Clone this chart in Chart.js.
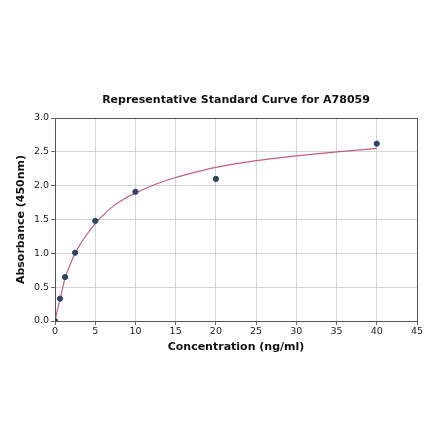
<!DOCTYPE html>
<html>
<head>
<meta charset="utf-8">
<script src="https://cdn.jsdelivr.net/npm/chart.js@4/dist/chart.umd.min.js"></script>
<style>
  html, body { margin: 0; padding: 0; background: #fff; }
  #wrap { width: 440px; height: 441px; }
</style>
</head>
<body>
<div id="wrap"><canvas id="myChart" width="440" height="441"></canvas></div>
<script>
// measured standards
const conc = [0, 0.625, 1.25, 2.5, 5, 10, 20, 40];
const absorb = [0.0, 0.33, 0.65, 1.01, 1.48, 1.91, 2.10, 2.62];

// fitted curve
const fitX = [0, 0.3, 0.625, 1.25, 1.875, 2.5, 3.125, 3.75, 5, 6.25, 7.5, 8.75, 10, 12.5, 15, 17.5, 20, 25, 30, 35, 40];
const fitY = [0, 0.16, 0.32, 0.63, 0.83, 1.0, 1.13, 1.245, 1.44, 1.595, 1.72, 1.815, 1.89, 2.02, 2.12, 2.20, 2.27, 2.37, 2.44, 2.50, 2.55];

const xTicks = [0, 5, 10, 15, 20, 25, 30, 35, 40, 45];
const yTicks = [0, 0.5, 1.0, 1.5, 2.0, 2.5, 3.0];

const chartTitle = 'Representative Standard Curve for A78059';
const xTitle = 'Concentration (ng/ml)';
const yTitle = 'Absorbance (450nm)';

const font = "'DejaVu Sans', sans-serif";

// title on top + dark frame round the plot
const framePlugin = {
  id: 'frame',
  afterDraw(chart) {
    const c = chart.ctx;
    const a = chart.chartArea;
    c.save();
    c.strokeStyle = '#555';
    c.lineWidth = 1;
    c.strokeRect(a.left + 0.5, a.top + 0.5, a.right - a.left, a.bottom - a.top);
    c.font = 'bold 11px ' + font;
    c.fillStyle = '#111';
    c.textAlign = 'center';
    c.textBaseline = 'middle';
    c.fillText(chartTitle, (a.left + a.right) / 2, 100);
    c.restore();
  }
};

const ctx = document.getElementById('myChart').getContext('2d');

const data = {
  datasets: [
    {
      type: 'line',
      data: fitX.map((x, i) => ({ x, y: fitY[i] })),
      borderColor: '#c0607a',
      borderWidth: 1.2,
      pointRadius: 0,
      fill: false,
      cubicInterpolationMode: 'monotone',
      order: 2
    },
    {
      type: 'scatter',
      data: conc.map((x, i) => ({ x, y: absorb[i] })),
      backgroundColor: '#2b4563',
      borderColor: '#2b4563',
      pointRadius: 2.6,
      order: 1
    }
  ]
};

const config = {
  data: data,
  options: {
    responsive: false,
    animation: false,
    layout: { padding: { left: 6, right: 23, top: 118, bottom: 85 } },
    plugins: { legend: { display: false }, tooltip: { enabled: false } },
    scales: {
      x: {
        type: 'linear',
        min: 0,
        max: 45,
        afterBuildTicks: s => { s.ticks = xTicks.map(v => ({ value: v })); },
        afterFit: s => { s.height = 35; },
        grid: { color: '#cccccc', tickColor: '#444', tickLength: 4, lineWidth: 0.8 },
        border: { color: '#555', width: 1 },
        ticks: { color: '#222', font: { family: font, size: 9.5 }, padding: 1, maxRotation: 0 },
        title: { display: true, text: xTitle, color: '#111', font: { family: font, size: 11, weight: 'bold' }, padding: { top: 0, bottom: 2 } }
      },
      y: {
        min: 0,
        max: 3,
        afterBuildTicks: s => { s.ticks = yTicks.map(v => ({ value: v })); },
        afterFit: s => { s.width = 49; },
        grid: { color: '#cccccc', tickColor: '#444', tickLength: 4, lineWidth: 0.8 },
        border: { color: '#555', width: 1 },
        ticks: { color: '#222', font: { family: font, size: 9.5 }, padding: 2, callback: v => v.toFixed(1) },
        title: { display: true, text: yTitle, color: '#111', font: { family: font, size: 11, weight: 'bold' }, padding: { top: 9, bottom: 0 } }
      }
    }
  },
  plugins: [framePlugin]
};

const myChart = new Chart(ctx, config);
</script>
</body>
</html>
